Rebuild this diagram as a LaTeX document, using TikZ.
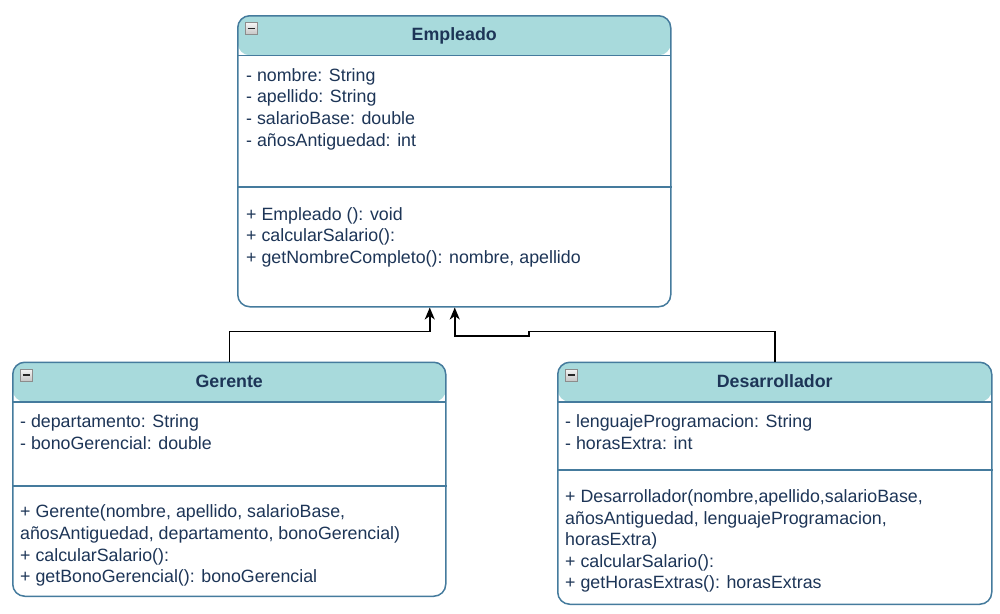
\documentclass[tikz,border=0pt]{standalone}
\usepackage{fontspec}
\setmainfont{Liberation Sans}
\usetikzlibrary{arrows.meta}
\definecolor{headfill}{HTML}{A8DADC}
\definecolor{boxline}{HTML}{457B9D}
\definecolor{boxtext}{HTML}{1D3557}
\tikzset{
  classbox/.style={draw=boxline, line width=1.5pt, rounded corners=12pt, fill=white,
    anchor=north west, inner sep=0pt,
    path picture={
      \fill[headfill] (path picture bounding box.north west) rectangle ([yshift=-39.5pt]path picture bounding box.north east);
      \draw[boxline, line width=1.5pt] ([yshift=-39.5pt]path picture bounding box.north west) -- ([yshift=-39.5pt]path picture bounding box.north east);
    }},
  collapsebtn/.style={draw=gray!90, top color=gray!8, bottom color=gray!45, minimum size=12pt, inner sep=0pt,
    path picture={\draw[line width=1.8pt, black!85] ([xshift=2.5pt]path picture bounding box.west) -- ([xshift=-2.5pt]path picture bounding box.east);}},
  classtitle/.style={anchor=base, inner sep=0pt, text=boxtext, font=\fontsize{17.8}{21.6}\selectfont\bfseries},
  members/.style={anchor=north west, inner sep=0pt, align=left, text=boxtext, font=\fontsize{17.8}{21.6}\selectfont},
  divider/.style={boxline, line width=1.5pt},
  inheritline/.style={black, line width=1.5pt, -{Stealth[length=12pt,width=10pt,inset=3.5pt]}}
}

\begin{document}
\begin{tikzpicture}[x=1pt, y=-1pt]
\useasboundingbox (0,0) rectangle (1000,613);

%Superclass Empleado
\node[classbox, minimum width=433pt, minimum height=291pt] (empleado) at (237,15) {};
\node[collapsebtn] (empleadoicon) at ([xshift=14pt,yshift=-13.5pt]empleado.north west) {};
\node[classtitle] (empleadotitle) at (empleado.north |- 0,40.8) {Empleado};
\draw[divider] (empleado.west |- 0,187) -- (empleado.east |- 0,187);
\node[members] (empleadoattr) at (246,65.9) {\strut- nombre: String\\- apellido: String\\- salarioBase: double\\- añosAntiguedad: int};
\node[members] (empleadometh) at (246,204.9) {\strut+ Empleado (): void\\+ calcularSalario():\\+ getNombreCompleto(): nombre, apellido};

%Subclass Gerente
\node[classbox, minimum width=433pt, minimum height=234pt] (gerente) at (12,361.5) {};
\node[collapsebtn] (gerenteicon) at ([xshift=14pt,yshift=-13.5pt]gerente.north west) {};
\node[classtitle] (gerentetitle) at (gerente.north |- 0,387.3) {Gerente};
\draw[divider] (gerente.west |- 0,486) -- (gerente.east |- 0,486);
\node[members] (gerenteattr) at (20,412.6) {\strut- departamento: String\\- bonoGerencial: double};
\node[members] (gerentemeth) at (20,502.6) {\strut+ Gerente(nombre, apellido, salarioBase,\\añosAntiguedad, departamento, bonoGerencial)\\+ calcularSalario():\\+ getBonoGerencial(): bonoGerencial};

%Subclass Desarrollador
\node[classbox, minimum width=434pt, minimum height=242pt] (desarrollador) at (557,361.5) {};
\node[collapsebtn] (desarrolladoricon) at ([xshift=14pt,yshift=-13.5pt]desarrollador.north west) {};
\node[classtitle] (desarrolladortitle) at (desarrollador.north |- 0,387.3) {Desarrollador};
\draw[divider] (desarrollador.west |- 0,470) -- (desarrollador.east |- 0,470);
\node[members] (desarrolladorattr) at (565,412.6) {\strut- lenguajeProgramacion: String\\- horasExtra: int};
\node[members] (desarrolladormeth) at (565,487.2) {\strut+ Desarrollador(nombre,apellido,salarioBase,\\añosAntiguedad, lenguajeProgramacion,\\horasExtra)\\+ calcularSalario():\\+ getHorasExtras(): horasExtras};

%Inheritance arrows
\coordinate (tipgerente) at ([xshift=-24.5pt]empleado.south);
\coordinate (tipdesarrollador) at ([xshift=0.5pt]empleado.south);
\draw[inheritline] (gerente.north) -- ++(0,-30) -| (tipgerente);
\draw[inheritline] (desarrollador.north) -- ++(0,-30) -| ++(-246,4.5) -| (tipdesarrollador);

\end{tikzpicture}
\end{document}
